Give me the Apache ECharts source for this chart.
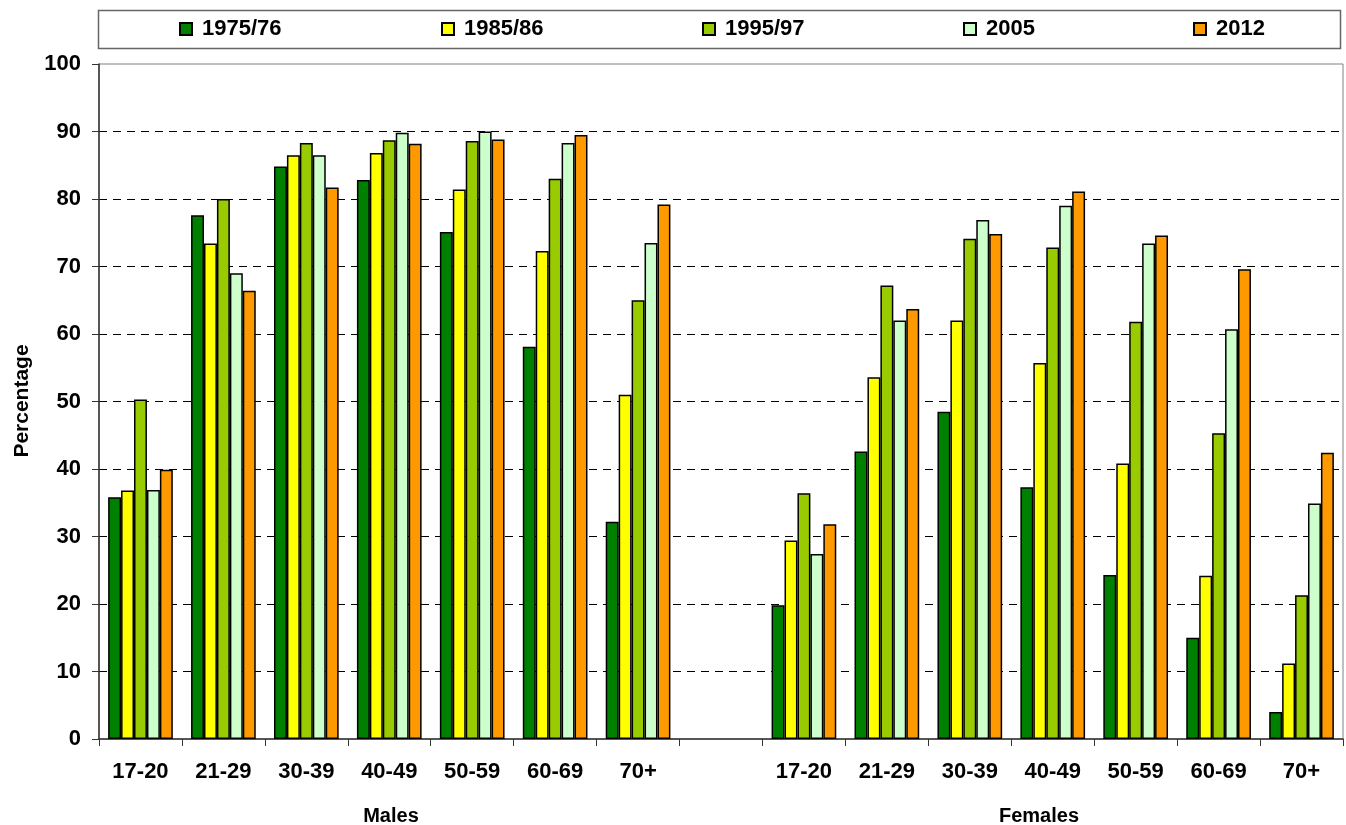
<!DOCTYPE html>
<html>
<head>
<meta charset="utf-8">
<title>Percentage by age group</title>
<script src="https://cdn.jsdelivr.net/npm/echarts@6/dist/echarts.min.js"></script>
<style>
  html, body { margin: 0; padding: 0; background: #fff; }
  #chart { width: 1346px; height: 825px; }
</style>
</head>
<body>
<div id="chart"></div>
<script>
// age groups: males, a blank slot, then females
var categories = ['17-20', '21-29', '30-39', '40-49', '50-59', '60-69', '70+', '',
  '17-20', '21-29', '30-39', '40-49', '50-59', '60-69', '70+'];

var seriesNames = ['1975/76', '1985/86', '1995/97', '2005', '2012'];
var seriesColors = ['#008000', '#ffff00', '#99cc00', '#ccffcc', '#ff9900'];

// values (males | blank | females)
var v1975 = [35.8, 77.6, 84.8, 82.8, 75.1, 58.1, 32.2, null, 19.8, 42.6, 48.5, 37.3, 24.3, 15.0, 4.0];
var v1985 = [36.8, 73.4, 86.5, 86.8, 81.4, 72.3, 51.0, null, 29.4, 53.6, 62.0, 55.7, 40.8, 24.2, 11.2];
var v1995 = [50.3, 80.0, 88.3, 88.7, 88.6, 83.0, 65.0, null, 36.4, 67.2, 74.1, 72.8, 61.8, 45.3, 21.3];
var v2005 = [36.9, 69.0, 86.5, 89.8, 90.0, 88.3, 73.5, null, 27.4, 62.0, 76.9, 79.0, 73.4, 60.7, 34.9];
var v2012 = [39.9, 66.4, 81.7, 88.2, 88.8, 89.5, 79.2, null, 31.8, 63.7, 74.8, 81.1, 74.6, 69.6, 42.4];
var seriesData = [v1975, v1985, v1995, v2005, v2012];

var yTicks = [0, 10, 20, 30, 40, 50, 60, 70, 80, 90, 100];

// where each legend square starts
var legendLeft = [179, 441, 702, 963, 1193];

var font = "'Liberation Sans', Arial, sans-serif";

var chart = echarts.init(document.getElementById('chart'));

var legends = seriesNames.map(function (name, i) {
  return {
    data: [name],
    left: legendLeft[i],
    top: 18,
    padding: 0,
    icon: 'rect',
    itemWidth: 12,
    itemHeight: 12,
    selectedMode: false,
    textStyle: {
      fontFamily: font,
      fontWeight: 'bold',
      fontSize: 22,
      color: '#000',
      padding: [0, 0, 0, 5]
    }
  };
});

var series = seriesNames.map(function (name, i) {
  return {
    name: name,
    type: 'bar',
    data: seriesData[i],
    barGap: '0%',
    barCategoryGap: '22%',
    itemStyle: {
      color: seriesColors[i],
      borderColor: '#000',
      borderWidth: 1.5
    },
    emphasis: { disabled: true }
  };
});

var option = {
  animation: false,
  backgroundColor: '#fff',
  legend: legends,
  grid: {
    left: 99,
    right: 3,
    top: 64,
    bottom: 86,
    containLabel: false,
    outerBoundsMode: 'none',
    show: true,
    borderColor: '#808080',
    borderWidth: 1
  },
  xAxis: {
    type: 'category',
    data: categories,
    axisLine: { lineStyle: { color: '#333', width: 1.5 } },
    axisTick: { show: true, length: 7, lineStyle: { color: '#333' } },
    axisLabel: {
      fontFamily: font,
      fontWeight: 'bold',
      fontSize: 22,
      color: '#000',
      margin: 22,
      interval: 0
    }
  },
  yAxis: {
    type: 'value',
    min: 0,
    max: 100,
    interval: 10,
    axisLine: { show: true, lineStyle: { color: '#333', width: 1.5 } },
    axisTick: { show: true, length: 7, lineStyle: { color: '#333' } },
    axisLabel: {
      fontFamily: font,
      fontWeight: 'bold',
      fontSize: 22,
      color: '#000',
      margin: 18,
      formatter: function (v) { return yTicks.indexOf(v) >= 0 ? String(v) : ''; }
    },
    splitLine: {
      show: true,
      showMinLine: false,
      showMaxLine: false,
      lineStyle: { color: '#000', type: [8, 6], width: 1 }
    }
  },
  graphic: [
    {
      type: 'rect',
      shape: { x: 98.5, y: 10.5, width: 1242, height: 38 },
      style: { fill: 'none', stroke: '#666', lineWidth: 1.5 },
      z: -1
    },
    {
      type: 'text',
      x: 22,
      y: 401,
      rotation: Math.PI / 2,
      style: {
        text: 'Percentage',
        fontFamily: font,
        fontWeight: 'bold',
        fontSize: 21,
        fill: '#000',
        align: 'center',
        verticalAlign: 'middle'
      }
    },
    {
      type: 'text',
      x: 391,
      y: 816,
      style: {
        text: 'Males',
        fontFamily: font,
        fontWeight: 'bold',
        fontSize: 20,
        fill: '#000',
        align: 'center',
        verticalAlign: 'middle'
      }
    },
    {
      type: 'text',
      x: 1039,
      y: 816,
      style: {
        text: 'Females',
        fontFamily: font,
        fontWeight: 'bold',
        fontSize: 20,
        fill: '#000',
        align: 'center',
        verticalAlign: 'middle'
      }
    }
  ],
  series: series
};

option && chart.setOption(option);
</script>
</body>
</html>
